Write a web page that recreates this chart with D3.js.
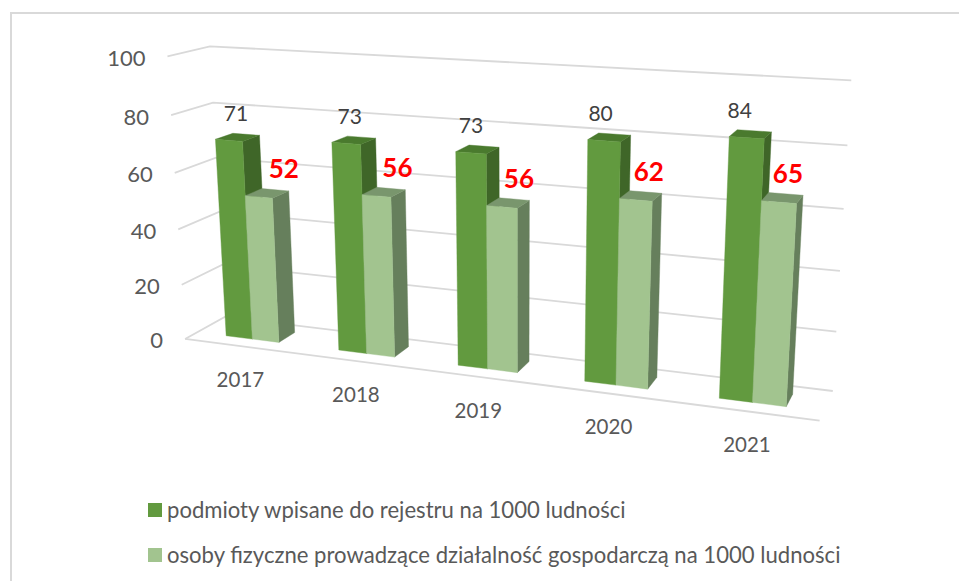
<!DOCTYPE html>
<html><head><meta charset="utf-8">
<script src="https://cdn.jsdelivr.net/npm/d3@7"></script>
<style>html,body{margin:0;padding:0;background:#fff}svg{display:block}text{font-family:Lato,"Open Sans",sans-serif}</style>
</head><body><div id="c"></div>
<script>
const categories = ["2017","2018","2019","2020","2021"];
const seriesA = [71,73,73,80,84];
const seriesB = [52,56,56,62,65];
const valueTicks = [0,20,40,60,80,100];
const legendLabels = ["podmioty wpisane do rejestru na 1000 ludności","osoby fizyczne prowadzące działalność gospodarczą na 1000 ludności"];

const W=959,H=581;
// Camera calibration: [u(0-1 along categories), d(0-1 depth), value(0-100), screen x, screen y]
const calibration=[
 [0,0,0,185,338],[0,0,20,182,284],[0,0,40,178,230],[0,0,60,174,173],[0,0,80,171,115],[0,0,100,168,57],
 [0,1,0,225,318],[0,1,80,213,102],[0,1,100,210,46],
 [1,1,0,833,391],[1,1,20,836,331],[1,1,40,840,271],[1,1,60,843,209],[1,1,80,847,146],[1,1,100,852,80],
 [1,0,0,820,421]];
function solve(A,b){const n=b.length;const M=A.map((r,i)=>[...r,b[i]]);
 for(let c=0;c<n;c++){let p=c;for(let r=c+1;r<n;r++)if(Math.abs(M[r][c])>Math.abs(M[p][c]))p=r;
  [M[c],M[p]]=[M[p],M[c]];
  for(let r=0;r<n;r++)if(r!==c){const f=M[r][c]/M[c][c];for(let k=c;k<=n;k++)M[r][k]-=f*M[c][k];}}
 return M.map((r,i)=>r[n]/r[i]);}
const zScale=d3.scaleLinear().domain([0,100]).range([0,1]);
const cam=(function(){const rows=[],rhs=[];
 calibration.forEach(([u,d,v,x,y])=>{const z=zScale(v);
  rows.push([u,d,z,1,0,0,0,0,-x*u,-x*d,-x*z]);rhs.push(x);
  rows.push([0,0,0,0,u,d,z,1,-y*u,-y*d,-y*z]);rhs.push(y);});
 const n=11,A=d3.range(n).map(i=>d3.range(n).map(j=>d3.sum(rows,r=>r[i]*r[j]))),
 b=d3.range(n).map(i=>d3.sum(rows,(r,k)=>r[i]*rhs[k]));
 return solve(A,b);})();
function P(u,d,v){const z=zScale(v),w=cam[8]*u+cam[9]*d+cam[10]*z+1;
 return [(cam[0]*u+cam[1]*d+cam[2]*z+cam[3])/w,(cam[4]*u+cam[5]*d+cam[6]*z+cam[7])/w];}

const uScale=d3.scaleBand().domain(categories).range([0.003,1.003]).paddingInner(0.5).paddingOuter(0.25);
const catScale=d3.scaleBand().domain(categories).range([0,1]).paddingInner(0.5).paddingOuter(0.25);
const seriesScale=d3.scaleBand().domain([0,1]).range([0,uScale.bandwidth()*0.95]);
const depth=[0.3,0.73];
const dxA=d3.scaleLinear().domain([0,1]).range([7,-7]);
const dxB=d3.scaleLinear().domain([0,1]).range([25,9]);

const svg=d3.select("#c").append("svg").attr("width",W).attr("height",H);
svg.append("path").attr("d",`M11,${H}V13H${W}`).attr("fill","none").attr("stroke","#d9d9d9").attr("stroke-width",2);

const line=d3.line();
const grid=svg.append("g").attr("fill","none").attr("stroke","#d9d9d9").attr("stroke-width",1.8);
valueTicks.forEach(v=>{
 grid.append("path").attr("d",line([P(0,0,v),P(0,1,v),P(1,1,v)]));
});
grid.append("path").attr("d",line([P(0,0,0),P(1,0,0)]));

svg.append("g").selectAll("text").data(valueTicks).join("text")
 .attr("x",v=>P(0,0,v)[0]-22).attr("y",v=>P(0,0,v)[1]+1)
 .attr("text-anchor","end").attr("dominant-baseline","central")
 .attr("font-size",22).attr("fill","#595959").text(d=>d);

const styles=[{front:"#629a3f",top:"#4a7a2e",side:"#3f6628"},{front:"#a2c48f",top:"#79966d",side:"#667f5c"}];
const bars=svg.append("g");
categories.forEach((c,i)=>{
 [seriesA[i],seriesB[i]].forEach((val,s)=>{
  const u0=uScale(c)+seriesScale(s),u1=u0+seriesScale.bandwidth(),[d0,d1]=depth,st=styles[s];
  const face=(pts,fill)=>bars.append("path").attr("d",line(pts)+"Z").attr("fill",fill).attr("stroke",fill).attr("stroke-width",0.4);
  face([P(u1,d0,0),P(u1,d1,0),P(u1,d1,val),P(u1,d0,val)],st.side);
  face([P(u0,d0,val),P(u1,d0,val),P(u1,d1,val),P(u0,d1,val)],st.top);
  face([P(u0,d0,0),P(u1,d0,0),P(u1,d0,val),P(u0,d0,val)],st.front);
 });
});
const labels=svg.append("g");
categories.forEach((c,i)=>{
 const uc=catScale(c)+catScale.bandwidth()/2;
 const b=P(uc,0,0);
 labels.append("text").attr("x",b[0]).attr("y",b[1]+33).attr("text-anchor","middle").attr("dominant-baseline","central")
  .attr("font-size",20.5).attr("fill","#595959").text(c);
 const ua=uScale(c)+seriesScale(0)+seriesScale.bandwidth()/2, ub=uScale(c)+seriesScale(1)+seriesScale.bandwidth()/2;
 const pa=P(ua,depth[0],seriesA[i]),pb=P(ub,depth[0],seriesB[i]);
 labels.append("text").attr("x",pa[0]+dxA(i/4)).attr("y",pa[1]-28).attr("text-anchor","middle").attr("dominant-baseline","central")
  .attr("font-size",21).attr("fill","#404040").text(seriesA[i]);
 labels.append("text").attr("x",pb[0]+dxB(i/4)).attr("y",pb[1]-29).attr("text-anchor","middle").attr("dominant-baseline","central")
  .attr("font-size",26).attr("font-weight",700).attr("fill","#ff0000").text(seriesB[i]);
});
const leg=svg.append("g");
legendLabels.forEach((t,i)=>{
 const y=[510,555][i];
 leg.append("rect").attr("x",148).attr("y",y-7).attr("width",14).attr("height",14).attr("fill",styles[i].front);
 leg.append("text").attr("x",167).attr("y",y-1).attr("dominant-baseline","central").attr("font-size",22.1).attr("fill","#595959").text(t);
});
</script></body></html>
